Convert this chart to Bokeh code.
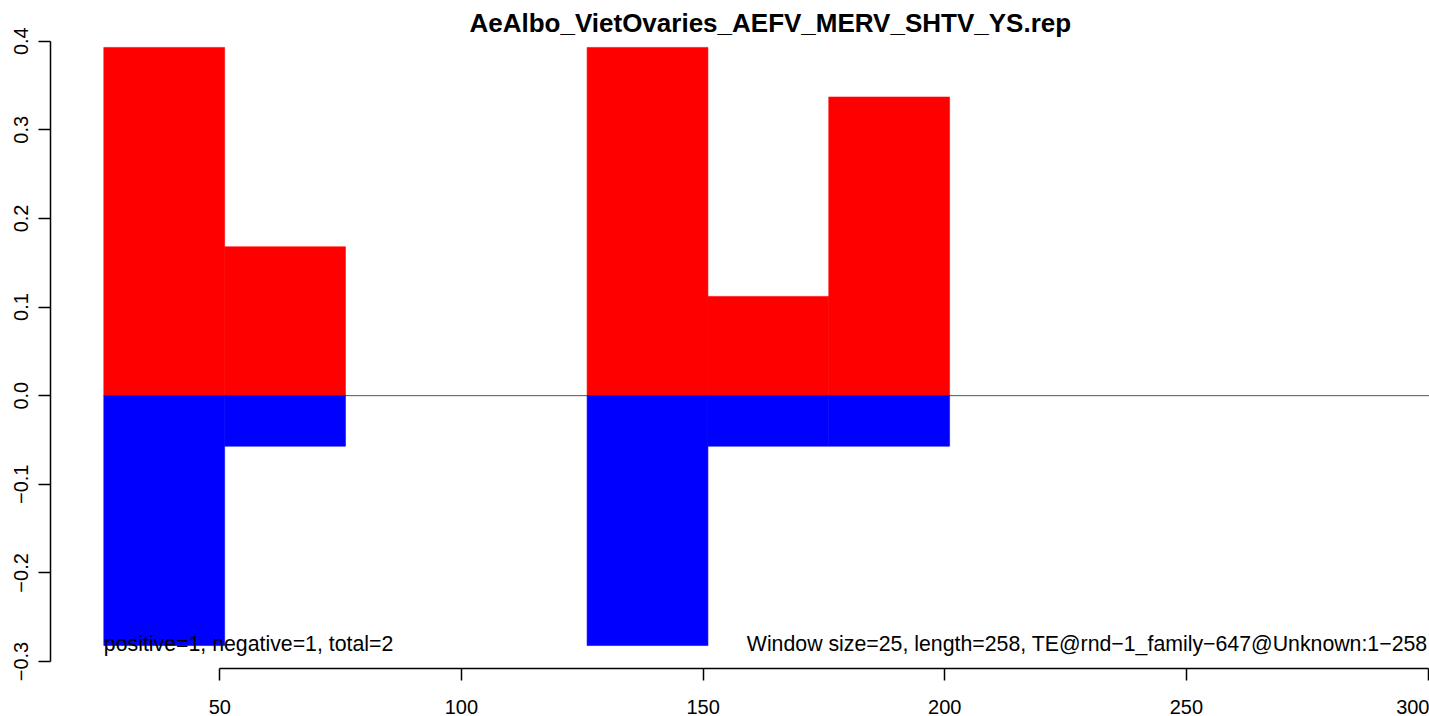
from bokeh.plotting import figure
from bokeh.models import Range1d, FixedTicker, CustomJSTickFormatter, Label, ColumnDataSource
from bokeh.embed import file_html
from bokeh.resources import INLINE

# ---- data ----
title_text = "AeAlbo_VietOvaries_AEFV_MERV_SHTV_YS.rep"
window_size = 25
win_start = [26, 51, 126, 151, 176]
pos_vals = [0.393, 0.168, 0.393, 0.112, 0.337]
neg_vals = [-0.282, -0.057, -0.282, -0.057, -0.057]
x_ticks = [50, 100, 150, 200, 250, 300]
y_ticks = [-0.3, -0.2, -0.1, 0.0, 0.1, 0.2, 0.3, 0.4]
left_note = "positive=1, negative=1, total=2"
right_note = "Window size=25, length=258, TE@rnd\u22121_family\u2212647@Unknown:1\u2212258"

FONT = "Liberation Sans"
x_lo, x_hi = 14.97, 300.3
y_lo, y_hi = -0.3079, 0.4369

p = figure(width=1429, height=716, output_backend="svg", toolbar_location=None,
           x_range=Range1d(x_lo, x_hi), y_range=Range1d(y_lo, y_hi),
           title_location=None, min_border_left=50, min_border_right=0,
           min_border_top=8, min_border_bottom=48)
p.outline_line_color = None
p.xgrid.visible = False
p.ygrid.visible = False
p.background_fill_color = "white"
p.border_fill_color = "white"

right = [s + window_size for s in win_start]
src = ColumnDataSource(dict(left=win_start, right=right, pos=pos_vals, neg=neg_vals,
                            zero=[0] * len(win_start)))

# baseline
p.segment(x0=[win_start[0]], x1=[x_hi], y0=[0], y1=[0], line_color="#555555", line_width=1)

p.quad(left="left", right="right", bottom="zero", top="pos", source=src,
       fill_color="#ff0000", line_color="#ff0000", line_width=0.6)
p.quad(left="left", right="right", bottom="neg", top="zero", source=src,
       fill_color="#0000ff", line_color="#0000ff", line_width=0.6)

# axes
for ax in (p.xaxis[0], p.yaxis[0]):
    ax.major_tick_in = 0
    ax.major_tick_out = 12
    ax.minor_tick_line_color = None
    ax.axis_line_width = 1.5
    ax.major_tick_line_width = 1.5
    ax.axis_line_color = "black"
    ax.major_tick_line_color = "black"
    ax.major_label_text_font = FONT
    ax.major_label_text_font_size = "20px"
    ax.major_label_text_color = "black"

p.xaxis[0].ticker = FixedTicker(ticks=x_ticks)
p.xaxis[0].bounds = (x_ticks[0], x_ticks[-1])
p.xaxis[0].major_label_standoff = 19
p.xaxis[0].major_label_text_line_height = 0.6

p.yaxis[0].ticker = FixedTicker(ticks=y_ticks)
p.yaxis[0].bounds = (y_ticks[0], y_ticks[-1])
p.yaxis[0].major_label_orientation = "vertical"
p.yaxis[0].major_label_standoff = 10
p.yaxis[0].formatter = CustomJSTickFormatter(code="return tick.toFixed(1).replace('-', '\u2212');")

# texts
p.add_layout(Label(x=163.9, y=0.42, text=title_text, text_align="center",
                   text_baseline="alphabetic", text_font=FONT, text_font_style="bold",
                   text_font_size="26px", text_color="black"))
p.add_layout(Label(x=win_start[0], y=-0.2808, text=left_note, text_align="left",
                   text_baseline="alphabetic", text_font=FONT, text_font_size="21.3px",
                   text_color="black"))
p.add_layout(Label(x=299.9, y=-0.2808, text=right_note, text_align="right",
                   text_baseline="alphabetic", text_font=FONT, text_font_size="21.3px",
                   text_color="black"))

open("out.html", "w").write(file_html(p, INLINE))
